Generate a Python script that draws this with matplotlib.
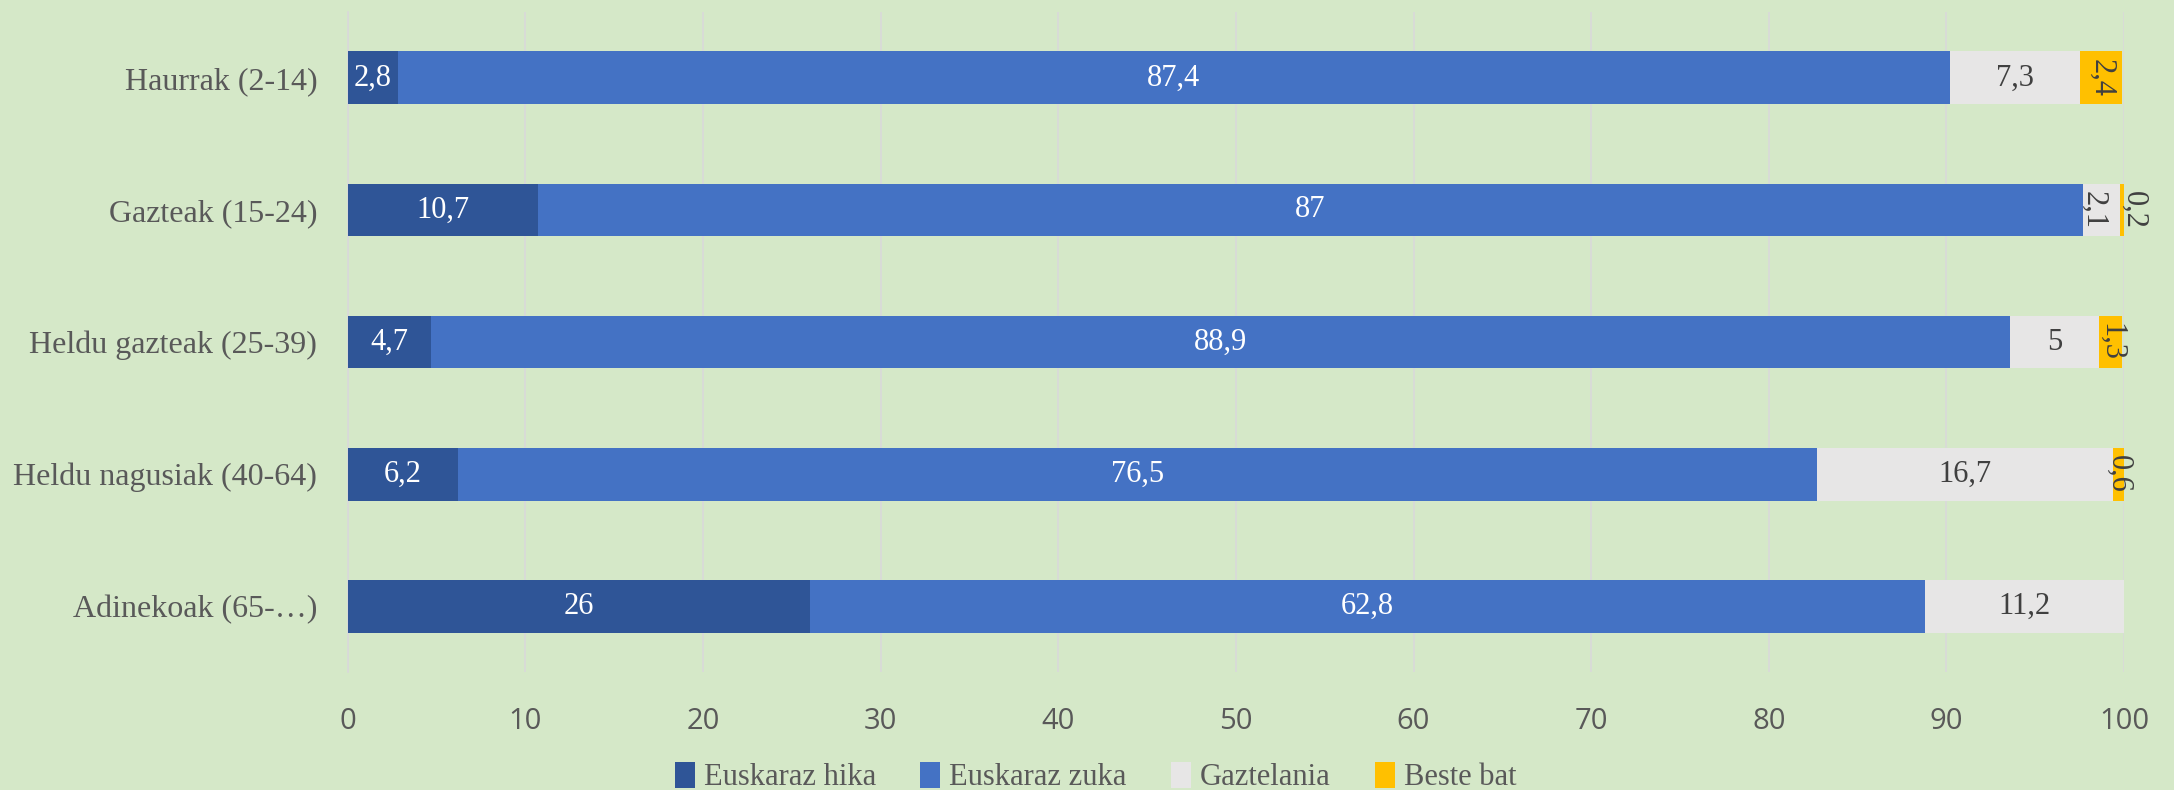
import matplotlib.pyplot as plt
import numpy as np

# Age groups (top to bottom) and shares per language (%)
groups = ['Haurrak (2-14)', 'Gazteak (15-24)', 'Heldu gazteak (25-39)',
          'Heldu nagusiak (40-64)', 'Adinekoak (65-…)']
hika = [2.8, 10.7, 4.7, 6.2, 26]
zuka = [87.4, 87, 88.9, 76.5, 62.8]
gaztelania = [7.3, 2.1, 5, 16.7, 11.2]
beste = [2.4, 0.2, 1.3, 0.6, 0]

series_names = ['Euskaraz hika', 'Euskaraz zuka', 'Gaztelania', 'Beste bat']
colors = ['#2F5597', '#4472C4', '#E7E6E6', '#FFC000']
text_colors = ['white', 'white', '#404040', '#404040']
xticks = [0, 10, 20, 30, 40, 50, 60, 70, 80, 90, 100]

bg = '#D5E8C8'
serif = 'Liberation Serif'

fig = plt.figure(figsize=(21.74, 7.9), dpi=100, facecolor=bg)
ax = fig.add_axes([0.16, 0.149, 0.817, 0.836], facecolor=bg)

y = np.arange(len(groups))
left = np.zeros(len(groups))
handles = []
for si, (vals, name, col, tcol) in enumerate(zip([hika, zuka, gaztelania, beste],
                                                 series_names, colors, text_colors)):
    vals = np.array(vals, dtype=float)
    bars = ax.barh(y, vals, left=left, height=0.4, color=col, label=name, zorder=3)
    handles.append(bars)
    for yi, v, l in zip(y, vals, left):
        if v <= 0:
            continue
        label = ('%g' % v).replace('.', ',')
        rot = -90 if v < 2.6 else 0
        # where both last segments are tiny, push their labels apart a little
        dx = 0
        if gaztelania[yi] < 2.6 and beste[yi] < 2.6:
            if si == 3:
                dx = 8
            elif si == 2:
                dx = -6
        ax.annotate(label, (l + v / 2, yi), xytext=(dx, 0), textcoords='offset points',
                    ha='center', va='center', rotation=rot,
                    color=tcol, fontsize=22, family=serif, zorder=4)
    left += vals

ax.set_xlim(0, 100)
ax.set_ylim(len(groups) - 0.5, -0.5)
ax.set_yticks(y)
ax.set_yticklabels(groups, family=serif, fontsize=23, color='#595959')
ax.set_xticks(xticks)
ax.set_xticklabels([str(t) for t in xticks], family='Open Sans', fontsize=21, color='#595959')
ax.tick_params(axis='both', length=0)
ax.tick_params(axis='x', pad=25)
ax.tick_params(axis='y', pad=22)
ax.grid(axis='x', color='#D9D9D9', linewidth=1.2, zorder=0)
for s in ['top', 'right', 'bottom']:
    ax.spines[s].set_visible(False)
ax.spines['left'].set_color('#D9D9D9')
ax.spines['left'].set_linewidth(1.2)

leg = fig.legend(handles=handles, labels=series_names, loc='center', ncol=4,
                 bbox_to_anchor=(0.504, 0.016), frameon=False,
                 prop={'family': serif, 'size': 22}, handlelength=0.65,
                 handleheight=0.9, handletextpad=0.3, columnspacing=1.45)
for t in leg.get_texts():
    t.set_color('#595959')

fig.savefig('out.png', dpi=100, facecolor=bg)
